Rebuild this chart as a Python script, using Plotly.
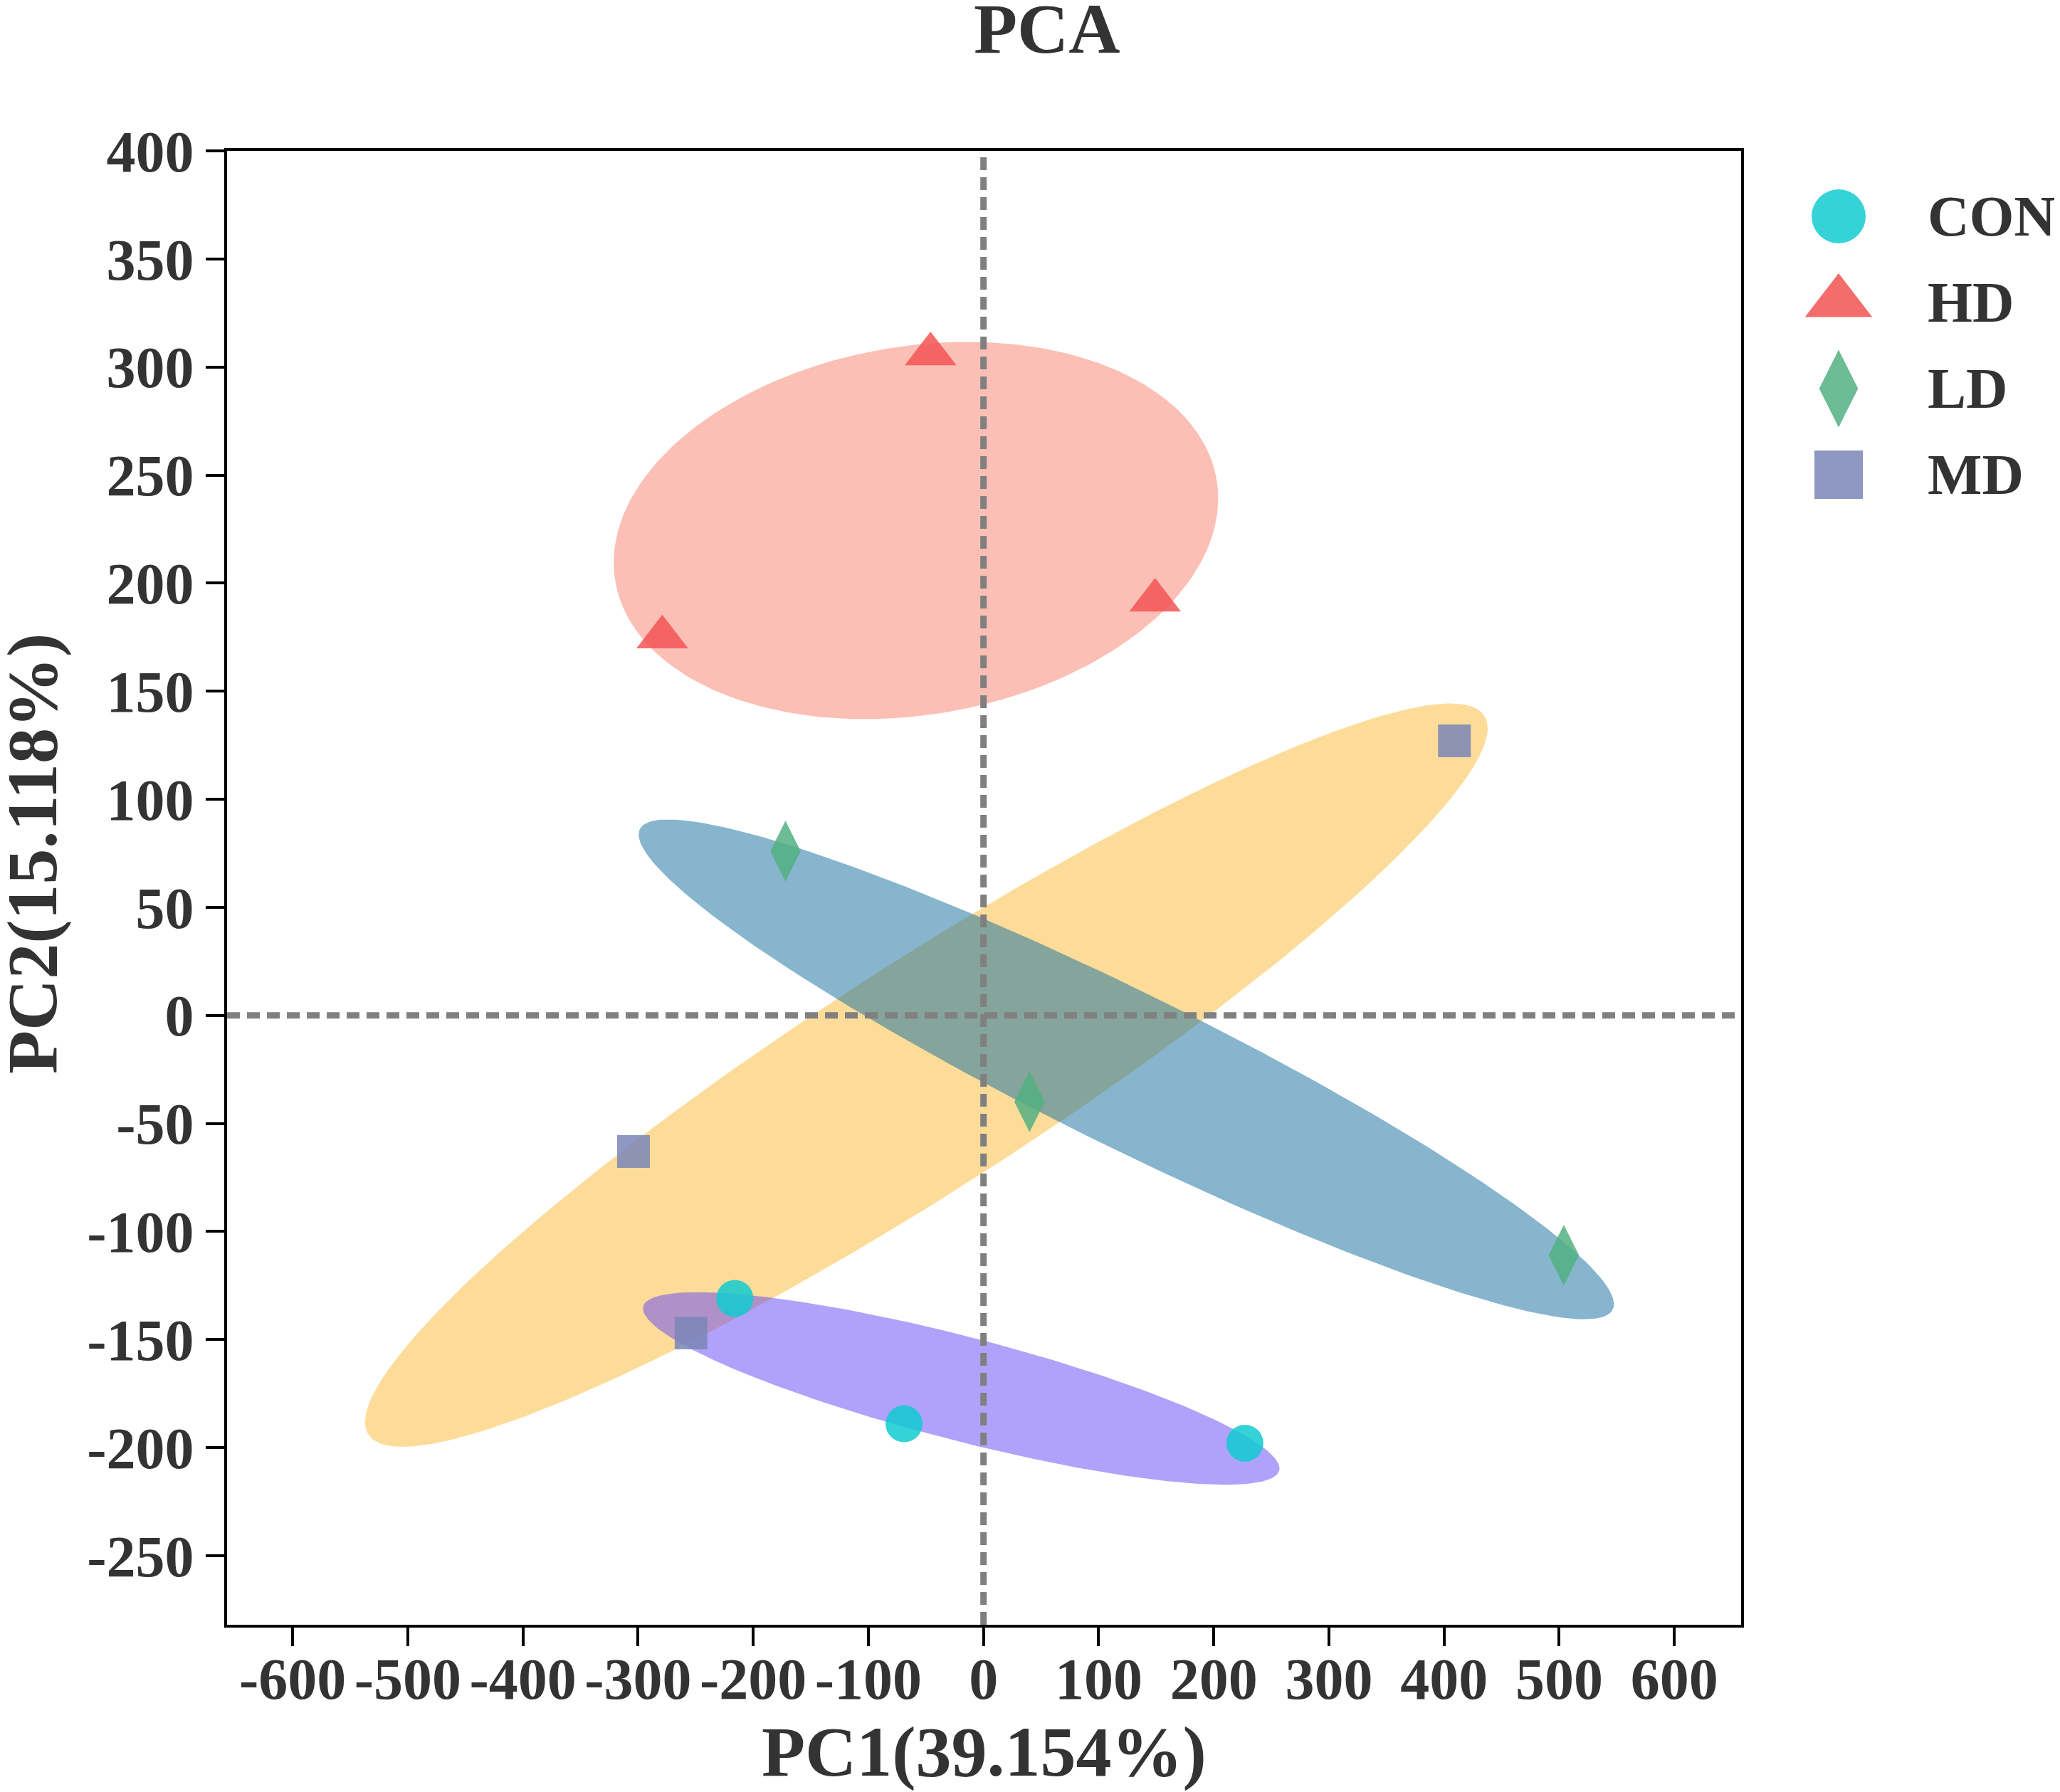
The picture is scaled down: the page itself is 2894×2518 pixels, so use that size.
#!/usr/bin/env python3
"""
PCA score plot (PC1 vs PC2) with one confidence ellipse per group.
"""
import numpy as np
import plotly.graph_objs as go

# Data
GROUPS = ['CON', 'HD', 'LD', 'MD']
CON_PC1 = [-216, -69, 227]
CON_PC2 = [-131, -189, -198]
HD_PC1 = [-46, -279, 149]
HD_PC2 = [306, 175, 192]
LD_PC1 = [-172, 40, 504]
LD_PC2 = [76, -40, -111]
MD_PC1 = [409, -304, -254]
MD_PC2 = [127, -63, -147]

X_TICKS = [-600, -500, -400, -300, -200, -100, 0, 100, 200, 300, 400, 500, 600]
Y_TICKS = [-250, -200, -150, -100, -50, 0, 50, 100, 150, 200, 250, 300, 350, 400]
X_TITLE = 'PC1(39.154%)'
Y_TITLE = 'PC2(15.118%)'
TITLE = 'PCA'

# Styling
W, H = 2894, 2518          # browser window
PAD = 8                    # default <body> margin of the written page
FIG_W, FIG_H = W - PAD, H - PAD
FONT = 'Times New Roman, Liberation Serif, serif'
TEXT_COLOR = '#333333'
MARKER_COLOR = {'CON': '#12CAD0', 'HD': '#F25454', 'LD': '#52B081', 'MD': '#7B86B7'}
MARKER_SYMBOL = {'CON': 'circle', 'HD': 'triangle-up', 'LD': 'diamond-tall', 'MD': 'square'}
MARKER_SIZE = {'CON': 52, 'HD': 63, 'LD': 61, 'MD': 46}
LEGEND_SIZE = {'CON': 76, 'HD': 82, 'LD': 78, 'MD': 68}
ELLIPSE_FILL = {'CON': 'rgba(97,69,245,0.5)', 'HD': 'rgba(249,127,107,0.5)',
                'LD': 'rgba(13,107,155,0.5)', 'MD': 'rgba(251,185,53,0.5)'}
ELLIPSE_ORDER = ['MD', 'HD', 'CON', 'LD']
ELLIPSE_SCALE = 1.225

# positions in window pixels
PLOT_L, PLOT_R, PLOT_T, PLOT_B = 319, 2446, 212, 2283
LEGEND_X, LEGEND_TEXT_X, LEGEND_TOP, LEGEND_STEP = 2583, 2706, 304, 121


def fx(p):
    """window x pixel -> paper fraction"""
    return (p - PAD) / FIG_W


def fy(p):
    """window y pixel (from top) -> paper fraction"""
    return 1 - (p - PAD) / FIG_H


def ellipse_outline(xs, ys, k=ELLIPSE_SCALE, n=241):
    """Covariance ellipse around the group mean."""
    pts = np.column_stack([xs, ys]).astype(float)
    center = pts.mean(axis=0)
    chol = np.linalg.cholesky(np.cov(pts, rowvar=False))
    t = np.linspace(0, 2 * np.pi, n)
    ring = center[:, None] + k * chol @ np.vstack([np.cos(t), np.sin(t)])
    return ring[0], ring[1]


def main():
    data = {
        'CON': (CON_PC1, CON_PC2),
        'HD': (HD_PC1, HD_PC2),
        'LD': (LD_PC1, LD_PC2),
        'MD': (MD_PC1, MD_PC2),
    }
    fig = go.Figure()

    # Ellipses first, points on top
    for g in ELLIPSE_ORDER:
        ex, ey = ellipse_outline(*data[g])
        fig.add_trace(go.Scatter(
            x=ex, y=ey, mode='lines', fill='toself',
            fillcolor=ELLIPSE_FILL[g], line=dict(width=0),
            hoverinfo='skip', showlegend=False
        ))
    for g in GROUPS:
        fig.add_trace(go.Scatter(
            x=data[g][0], y=data[g][1], mode='markers', name=g,
            marker=dict(symbol=MARKER_SYMBOL[g], size=MARKER_SIZE[g],
                        color=MARKER_COLOR[g], opacity=0.85, line=dict(width=0)),
            showlegend=False
        ))

    # Hand-built legend (plotly caps legend symbol size)
    leg_y = [LEGEND_TOP + i * LEGEND_STEP for i in range(len(GROUPS))]
    for g, y in zip(GROUPS, leg_y):
        fig.add_trace(go.Scatter(
            x=[LEGEND_X], y=[y], mode='markers', xaxis='x2', yaxis='y2',
            marker=dict(symbol=MARKER_SYMBOL[g], size=LEGEND_SIZE[g],
                        color=MARKER_COLOR[g], opacity=0.85, line=dict(width=0)),
            hoverinfo='skip', showlegend=False
        ))
        fig.add_annotation(
            x=LEGEND_TEXT_X, y=y, xref='x2', yref='y2', text=g, showarrow=False,
            xanchor='left', yanchor='middle',
            font=dict(family=FONT, size=81, color=TEXT_COLOR, weight='bold')
        )

    # Reference lines through the origin
    dash = dict(color='#808080', width=9, dash='18px,10px')
    fig.add_hline(y=0, line=dash)
    fig.add_vline(x=0, line=dash)

    axis_common = dict(
        showline=True, mirror=True, linewidth=4, linecolor='black',
        ticks='outside', ticklen=26, tickwidth=4, tickcolor='black',
        showgrid=False, zeroline=False, automargin=False, tickangle=0,
        tickfont=dict(family=FONT, size=82, color=TEXT_COLOR, weight='bold'),
    )
    fig.update_layout(
        width=FIG_W, height=FIG_H,
        margin=dict(l=0, r=0, t=0, b=0, autoexpand=False),
        paper_bgcolor='white', plot_bgcolor='white',
        showlegend=False,
        xaxis=dict(domain=[fx(PLOT_L), fx(PLOT_R)], range=[-657, 658],
                   tickvals=X_TICKS, ticktext=[str(v) for v in X_TICKS],
                   ticklabelstandoff=-24, **axis_common),
        yaxis=dict(domain=[fy(PLOT_B), fy(PLOT_T)], range=[-282, 400],
                   tickvals=Y_TICKS, ticktext=[str(v) for v in Y_TICKS],
                   **axis_common),
        xaxis2=dict(domain=[0.85, 1.0], range=[0.85 * FIG_W + PAD, FIG_W + PAD],
                    visible=False, anchor='y2'),
        yaxis2=dict(domain=[0, 1], range=[FIG_H + PAD, PAD], visible=False,
                    anchor='x2'),
    )

    title_font = dict(family=FONT, size=100, color=TEXT_COLOR, weight='bold')
    fig.add_annotation(x=fx(1471), y=fy(40), xref='paper', yref='paper',
                       text=TITLE, showarrow=False, xanchor='center',
                       yanchor='middle', font=title_font)
    fig.add_annotation(x=fx((PLOT_L + PLOT_R) / 2), y=fy(2461),
                       xref='paper', yref='paper', text=X_TITLE, showarrow=False,
                       xanchor='center', yanchor='middle', font=title_font)
    fig.add_annotation(x=fx(46), y=fy(1200), xref='paper', yref='paper',
                       text=Y_TITLE, showarrow=False, textangle=-90,
                       xanchor='center', yanchor='middle', font=title_font)

    fig.write_html('out.html')


if __name__ == '__main__':
    main()
